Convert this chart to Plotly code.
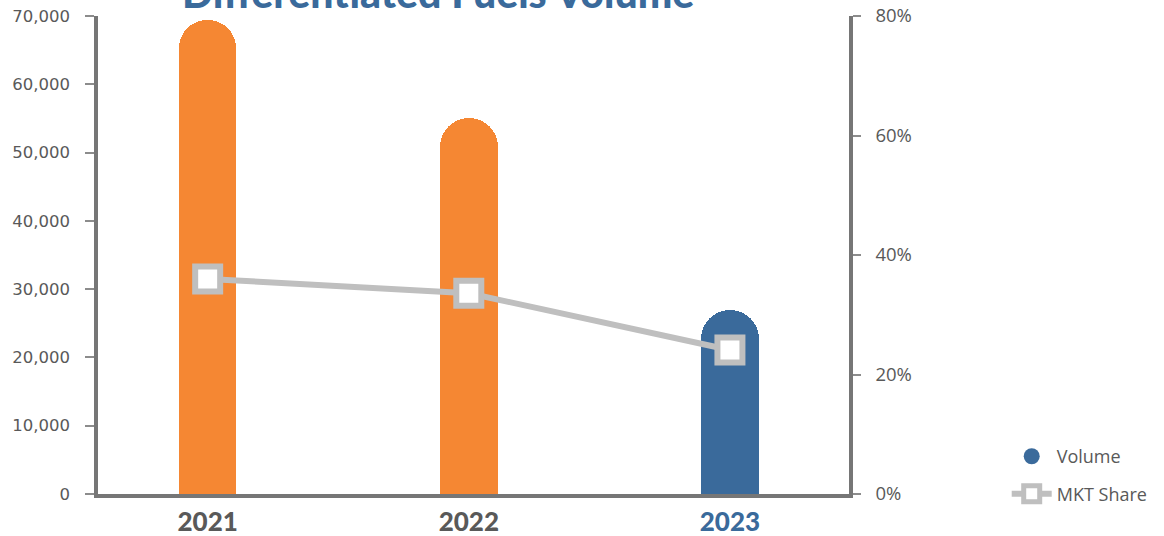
import plotly.graph_objects as go

# Yearly differentiated fuels volume and market share
years = ["2021", "2022", "2023"]
volume = [69400, 55000, 27000]
mkt_share = [0.36, 0.336, 0.241]
bar_colors = ["#F58733", "#F58733", "#3A6A9B"]
year_label_colors = ["#595959", "#595959", "#3A6A9B"]
left_ticks = [0, 10000, 20000, 30000, 40000, 50000, 60000, 70000]
right_ticks = [0, 0.2, 0.4, 0.6, 0.8]

axis_gray = "#767676"
label_gray = "#595959"

fig = go.Figure()

fig.add_trace(go.Bar(
    x=list(range(len(years))), y=volume,
    marker=dict(color=bar_colors, cornerradius="50%", line=dict(width=0)),
    width=0.22, showlegend=False, name="Volume",
))

# legend entry for volume drawn as a round swatch
fig.add_trace(go.Scatter(
    x=[None], y=[None], mode="markers", name="Volume",
    marker=dict(symbol="circle", size=22, color="#3A6A9B"),
    legendgroup="a",
))

fig.add_trace(go.Scatter(
    x=list(range(len(years))), y=mkt_share, yaxis="y2",
    mode="lines+markers", name="MKT Share", legendgroup="b",
    line=dict(color="#BFBFBF", width=6),
    marker=dict(symbol="square", size=25, color="white",
                line=dict(color="#BFBFBF", width=6)),
))

fig.update_layout(
    template="none",
    width=1164, height=536,
    margin=dict(l=98, r=315, t=16, b=42, autoexpand=False),
    paper_bgcolor="white", plot_bgcolor="white",
    bargap=0,
    font=dict(family="Open Sans", color=label_gray),
    xaxis=dict(
        range=[-0.42, 2.456], automargin=False,
        tickmode="array", tickvals=list(range(len(years))),
        ticktext=[f"<span style='color:{c}'>{y}</span>"
                  for y, c in zip(years, year_label_colors)],
        tickfont=dict(family="Lato", size=26, weight=900, color=label_gray),
        showline=True, linecolor=axis_gray, linewidth=3.5,
        ticks="", showgrid=False, zeroline=False,
        ticklabelstandoff=2,
    ),
    yaxis=dict(
        range=[0, 70000], tickmode="array", tickvals=left_ticks,
        tickformat=",d", automargin=False,
        tickfont=dict(family="DejaVu Sans", size=16.5, color=label_gray),
        showline=True, linecolor=axis_gray, linewidth=3.5,
        ticks="outside", ticklen=9, tickwidth=1.5, tickcolor="#8C8C8C",
        showgrid=False, zeroline=False, ticklabelstandoff=12,
    ),
    yaxis2=dict(
        range=[0, 0.8], tickmode="array", tickvals=right_ticks,
        tickformat=".0%", overlaying="y", side="right", automargin=False,
        tickfont=dict(family="Open Sans", size=18.5, color=label_gray),
        showline=True, linecolor=axis_gray, linewidth=3.5,
        ticks="outside", ticklen=8, tickwidth=1.5, tickcolor="#8C8C8C",
        showgrid=False, zeroline=False, ticklabelstandoff=11,
    ),
    legend=dict(
        x=1.21, y=0.117, xanchor="left", yanchor="top",
        font=dict(family="Open Sans", size=18, color=label_gray),
        tracegroupgap=11, itemwidth=40, bgcolor="rgba(0,0,0,0)",
    ),
    annotations=[dict(
        text="Differentiated Fuels Volume",
        xref="paper", yref="paper", x=(438 - 98) / 751, y=1.0,
        xanchor="center", yanchor="bottom", yshift=-3,
        showarrow=False,
        font=dict(family="Lato", size=41, weight=900, color="#3A6A9B"),
    )],
)

fig.write_html("out.html")
